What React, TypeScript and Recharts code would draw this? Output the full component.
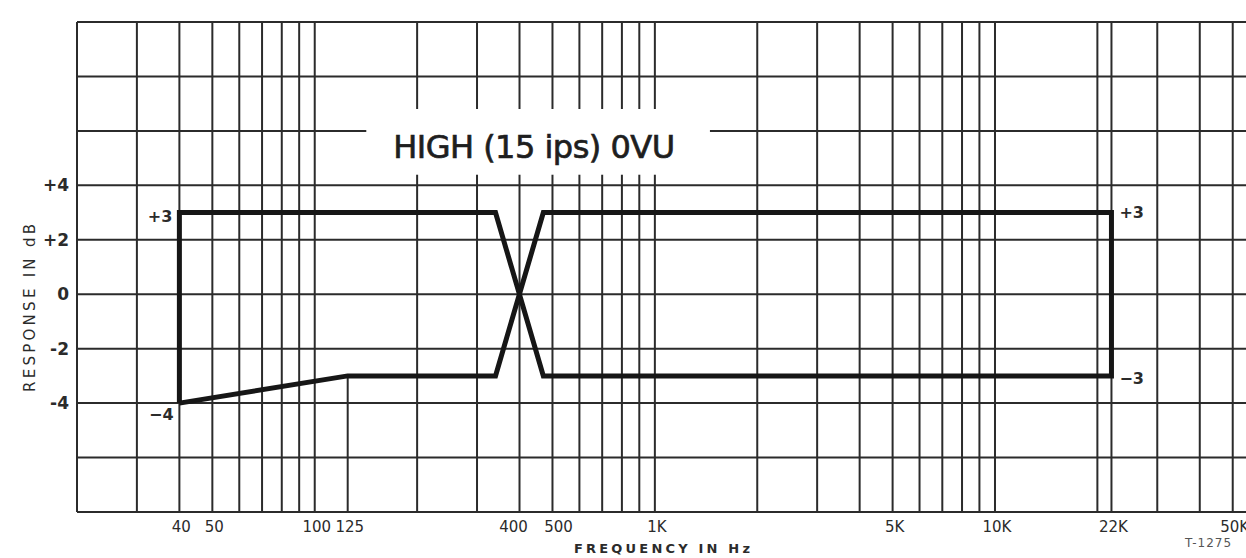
import React from "react";
import {
  LineChart,
  Line,
  XAxis,
  YAxis,
  ReferenceLine,
  ReferenceArea,
  ReferenceDot,
  Label,
} from "recharts";

// frequency grid of the log paper (Hz)
const GRID_FREQS = [
  20, 30, 40, 50, 60, 70, 80, 90, 100, 200, 300, 400, 500, 600, 700, 800, 900, 1000,
  2000, 3000, 4000, 5000, 6000, 7000, 8000, 9000, 10000, 20000, 22000, 30000, 40000, 50000,
];
const GRID_DB = [-8, -6, -4, -2, 0, 2, 4, 6, 8, 10];

// labelled axis ticks
const TICK_FREQS = [40, 50, 100, 125, 400, 500, 1000, 5000, 10000, 22000, 50000];
const TICK_LABELS = ["40", "50", "100", "125", "400", "500", "1K", "5K", "10K", "22K", "50K"];
const DB_TICKS = [-4, -2, 0, 2, 4];

// tolerance window outline (closed loop, drawn in order)
const MASK_FREQ = [40, 40, 340, 470, 22000, 22000, 470, 340, 125, 40];
const MASK_DB = [-4, 3, 3, -3, -3, 3, 3, -3, -3, -4];

// blank space on the paper that holds the title
const TITLE_BOX_FREQ = [142, 1450];
const TITLE_BOX_DB = [4.4, 6.8];

const data = MASK_FREQ.map((f, i) => ({ f, db: MASK_DB[i] }));

const INK = "#2b2b2b";
const FONT = "'DejaVu Sans', sans-serif";

const XTick = (props: any) => {
  const { x, y, payload } = props;
  const idx = TICK_FREQS.indexOf(payload.value);
  const label = TICK_LABELS[idx] ?? "";
  // 400 / 500 sit close together, the print spreads them apart
  const nudge = payload.value === 400 ? -6 : payload.value === 500 ? 6 : 2;
  return (
    <text x={x + nudge} y={y + 12} textAnchor="middle" fontSize={15} fill={INK} fontFamily={FONT}>
      {label}
    </text>
  );
};

const YTick = (props: any) => {
  const { x, y, payload } = props;
  const v = payload.value;
  return (
    <text x={x} y={y + 6} textAnchor="end" fontSize={17} fontWeight="bold" fill={INK} fontFamily={FONT}>
      {v > 0 ? `+${v}` : `${v}`}
    </text>
  );
};

export default function App() {
  return (
    <div style={{ position: "absolute", left: 0, top: 0, width: 1246, height: 558, background: "#fff", overflow: "hidden" }}>
      <LineChart width={1246} height={558} data={data} margin={{ top: 22, right: 0, bottom: 0, left: 0 }}>
        <XAxis
          dataKey="f"
          type="number"
          scale="log"
          domain={[20, 54700]}
          allowDataOverflow
          ticks={TICK_FREQS}
          interval={0}
          tick={<XTick />}
          tickLine={false}
          axisLine={false}
          height={46}
        >
          <Label
            content={() => (
              <text x={662} y={553} textAnchor="middle" fontSize={13} fontWeight="bold" fill={INK} fontFamily={FONT} textLength={176}>
                FREQUENCY IN Hz
              </text>
            )}
          />
        </XAxis>
        <YAxis
          type="number"
          domain={[-8, 10]}
          ticks={DB_TICKS}
          interval={0}
          tick={<YTick />}
          tickLine={false}
          axisLine={false}
          width={77}
        >
          <Label
            content={() => (
              <text
                x={35}
                y={308}
                transform="rotate(-90 35 308)"
                textAnchor="middle"
                fontSize={15}
                fill={INK}
                fontFamily={FONT}
                textLength={168}
              >
                RESPONSE IN dB
              </text>
            )}
          />
        </YAxis>

        {GRID_DB.map((d) => (
          <ReferenceLine key={"h" + d} y={d} stroke={INK} strokeWidth={2} ifOverflow="visible" />
        ))}
        {GRID_FREQS.map((f) => (
          <ReferenceLine key={"v" + f} x={f} stroke={INK} strokeWidth={2} ifOverflow="visible" />
        ))}
        <ReferenceLine
          segment={[
            { x: 125, y: -3 },
            { x: 125, y: -8 },
          ]}
          stroke={INK}
          strokeWidth={2}
        />

        <ReferenceArea
          x1={TITLE_BOX_FREQ[0]}
          x2={TITLE_BOX_FREQ[1]}
          y1={TITLE_BOX_DB[0]}
          y2={TITLE_BOX_DB[1]}
          fill="#fff"
          fillOpacity={1}
          stroke="none"
          {...({ zIndex: 1000 } as any)}
        >
          <Label
            {...({ zIndex: 1100 } as any)}
            content={(p: any) => {
              const vb = p.viewBox || { x: 0, y: 0, width: 0, height: 0 };
              const cx = vb.x + vb.width / 2 - 4;
              return (
                <g>
                  <rect x={vb.x} y={vb.y} width={vb.width} height={vb.height} fill="#fff" />
                  <text
                    x={cx}
                    y={158}
                    textAnchor="middle"
                    fontSize={32}
                    fill="#1e1e1e"
                    stroke="#1e1e1e"
                    strokeWidth={0.7}
                    fontFamily={FONT}
                    textLength={282}
                  >
                    HIGH (15 ips) 0VU
                  </text>
                </g>
              );
            }}
          />
        </ReferenceArea>

        <Line
          type="linear"
          dataKey="db"
          stroke="#161616"
          strokeWidth={5}
          strokeLinejoin="miter"
          dot={false}
          activeDot={false}
          isAnimationActive={false}
        />

        <ReferenceDot x={40} y={3} r={0} stroke="none" label={{ value: "+3", position: "left", offset: 7, dy: 4, fontSize: 16, fontWeight: "bold", fill: INK, fontFamily: FONT }} />
        <ReferenceDot x={40} y={-4} r={0} stroke="none" label={{ value: "\u22124", position: "bottom", offset: 6, dx: -18, fontSize: 16, fontWeight: "bold", fill: INK, fontFamily: FONT }} />
        <ReferenceDot x={22000} y={3} r={0} stroke="none" label={{ value: "+3", position: "right", offset: 8, fontSize: 16, fontWeight: "bold", fill: INK, fontFamily: FONT }} />
        <ReferenceDot x={22000} y={-3} r={0} stroke="none" label={{ value: "\u22123", position: "right", offset: 8, dy: 2, fontSize: 16, fontWeight: "bold", fill: INK, fontFamily: FONT }} />
      </LineChart>
      <div style={{ position: "absolute", left: 1185, top: 536, fontSize: 12, color: "#555", fontFamily: FONT, letterSpacing: 1 }}>
        T-1275
      </div>
    </div>
  );
}
